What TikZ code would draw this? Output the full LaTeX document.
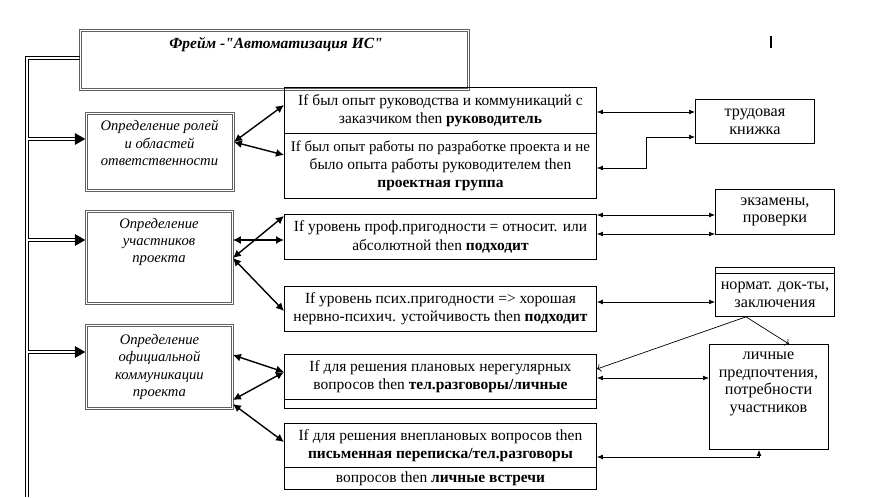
\documentclass[tikz,border=0pt]{standalone}
\usepackage{fontspec}
\setmainfont{Liberation Serif}
\newfontfamily\plainserif{Liberation Serif}
\usetikzlibrary{calc, arrows.meta, positioning, shapes.geometric}

\begin{document}
\begin{tikzpicture}[x=0.025cm, y=-0.025cm,
    sz/.style 2 args={minimum width=#1*0.25mm, minimum height=#2*0.25mm},
    ramka/.style={draw=gray!75!black, double=white, double distance=0.45pt, line width=0.6pt,
        inner sep=0pt, anchor=north west, align=center, font=\fontsize{10.4}{12.2}\selectfont\itshape},
    ramkatext/.style={inner sep=0pt, align=center, font=\fontsize{10.4}{12.2}\selectfont\itshape},
    pravilo/.style={draw, line width=0.6pt, inner sep=0pt, anchor=north west, align=center,
        font=\fontsize{11}{13}\selectfont},
    istochnik/.style={pravilo, font=\fontsize{11.5}{12.6}\selectfont},
    nakonechnik/.style={fill=black, isosceles triangle, isosceles triangle stretches,
        inner sep=0pt, minimum width=3mm, minimum height=2.6mm, anchor=apex},
    tolst/.style={{Latex[length=2mm,width=2mm]}-{Latex[length=2mm,width=2mm]}, line width=1pt},
    tonk/.style={{Latex[length=1.5mm,width=1.2mm]}-{Latex[length=1.5mm,width=1.2mm]}, line width=0.5pt},
    stvol/.style={line width=0.6pt},
]

        \useasboundingbox (0,0) rectangle (873,498);

        % ==========================================
        % ФРЕЙМ И СТВОЛ СЛЕВА
        % ==========================================

        \node[ramka, sz={388}{59}] (frame) at (80,30) {};
        \node[ramkatext, font=\fontsize{11}{13}\plainserif\bfseries\itshape] (title) at (276,45)
            {Фрейм -"Автоматизация ИС"};

        % двойная линия: внешняя и внутренняя (с ответвлениями к слотам)
        \draw[stvol] (80,56.6) -| (25.6,497);
        \draw[stvol] (80,59.4) -| (28.4,137.6) -- (76,137.6) -- (76,140.4) -- (28.4,140.4)
            -- (28.4,238.6) -- (76,238.6) -- (76,241.4) -- (28.4,241.4)
            -- (28.4,350.6) -- (76,350.6) -- (76,353.4) -- (28.4,353.4) -- (28.4,497);

        % курсор справа вверху
        \draw[line width=0.9pt] (771,36) -- (771,48);

        % ==========================================
        % СЛОТЫ (слева)
        % ==========================================

        \node[ramka, sz={147}{77}] (roles) at (86,113) {};
        \node[ramkatext] (roles-t) at (159.5,143)
            {Определение ролей\\и областей\\ответственности};

        \node[ramka, sz={146}{92}] (members) at (86,211) {};
        \node[ramkatext] (members-t) at (159,242)
            {Определение\\участников\\проекта};

        \node[ramka, sz={146}{83}] (comm) at (86,325)
            {Определение\\официальной\\коммуникации\\проекта};

        % наконечники ответвлений
        \foreach \slot/\yy in {roles/139, members/240, comm/352}
            \node[nakonechnik] (tip-\slot) at (\slot.west |- 0,\yy) {};

        % ==========================================
        % ПРАВИЛА (в центре)
        % ==========================================

        \node[pravilo, sz={312}{46}] (R1a) at (284,87)
            {If был опыт руководства и коммуникаций с\\заказчиком then \textbf{руководитель}};
        \node[pravilo, sz={312}{65}] (R1b) at (284,133)
            {\fontsize{10.6}{13}\selectfont If был опыт работы по разработке проекта и не\\было опыта работы руководителем then\\\textbf{проектная группа}};
        \node[pravilo, sz={312}{45}] (R2) at (284,214)
            {If уровень проф.пригодности = относит. или\\абсолютной then \textbf{подходит}};
        \node[pravilo, sz={312}{45}] (R3) at (284,286)
            {If уровень псих.пригодности => хорошая\\нервно-психич. устойчивость then \textbf{подходит}};
        \node[pravilo, sz={312}{45}] (R4) at (284,354)
            {If для решения плановых нерегулярных\\вопросов then \textbf{тел.разговоры/личные}};
        \node[pravilo, sz={312}{9}] (R4s) at (284,399) {};
        \node[pravilo, sz={312}{44}] (R5a) at (284,423)
            {If для решения внеплановых вопросов then\\\textbf{письменная переписка/тел.разговоры}};
        \node[pravilo, sz={312}{22}] (R5b) at (284,467)
            {вопросов then \textbf{личные встречи}};

        % толстые стрелки слот <-> правило
        \draw[tolst] (roles.east |- 0,142) -- (R1a.west |- 0,105);
        \draw[tolst] (roles.east |- 0,142) -- (R1b.west |- 0,155);
        \draw[tolst] (members.east |- 0,240) -- (R2.west |- 0,240);
        \draw[tolst] (members.east |- 0,258) -- (R2.west |- 0,216);
        \draw[tolst] (members.east |- 0,258) -- (R3.west |- 0,311);
        \draw[tolst] (comm.east |- 0,355) -- (R4.west |- 0,372);
        \draw[tolst] (comm.east |- 0,400) -- (R4.west |- 0,372);
        \draw[tolst] (comm.east |- 0,404) -- (R5a.west |- 0,442);

        % ==========================================
        % ИСТОЧНИКИ (справа)
        % ==========================================

        \node[istochnik, sz={119}{44}] (B1) at (695,99) {трудовая\\книжка};
        \node[istochnik, sz={119}{45}] (B2) at (715,189) {экзамены,\\проверки};
        \node[istochnik, sz={119}{6}] (B3s) at (715,267) {};
        \node[istochnik, sz={119}{43}] (B3) at (715,273) {нормат. док-ты,\\заключения};
        \node[istochnik, sz={119}{105}] (B4) at (709,344) {};
        \node[ramkatext, font=\fontsize{11.5}{12.6}\selectfont] (B4-t) at (768.5,384)
            {личные\\предпочтения,\\потребности\\участников};

        % тонкие стрелки правило <-> источник
        \draw[tonk] (R1a.east |- 0,112) -- (B1.west |- 0,112);
        \draw[tonk] (R1b.east |- 0,168) -- +(49,0) |- (B1.west |- 0,137);
        \draw[tonk] (R2.east |- 0,215) -- (B2.west |- 0,215);
        \draw[tonk] (R2.east |- 0,234) -- (B2.west |- 0,234);
        \draw[tonk] (R3.east |- 0,302) -- (B3.west |- 0,302);
        \draw[tonk, <-] (R4.east |- 0,369) -- (746,0 |- B3.south);
        \draw[tonk, ->] (746,0 |- B3.south) -- (789,0 |- B4.north);
        \draw[tonk] (R4.east |- 0,378) -- (B4.west |- 0,378);
        \draw[tonk] (R5a.east |- 0,457) -| (759,0 |- B4.south);

    \end{tikzpicture}
\end{document}
